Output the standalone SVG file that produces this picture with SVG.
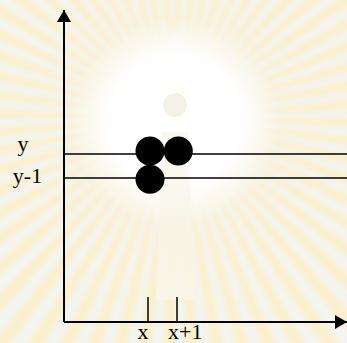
<svg xmlns="http://www.w3.org/2000/svg" width="347" height="343" viewBox="0 0 347 343">
  <defs>
    <radialGradient id="glow" cx="0.5" cy="0.5" r="0.5">
      <stop offset="0" stop-color="#ffffff" stop-opacity="1"/>
      <stop offset="0.62" stop-color="#ffffff" stop-opacity="1"/>
      <stop offset="1" stop-color="#ffffff" stop-opacity="0"/>
    </radialGradient>
    <linearGradient id="body" x1="0" y1="0" x2="0" y2="1">
      <stop offset="0" stop-color="#f6f3ea" stop-opacity="0.6"/>
      <stop offset="1" stop-color="#faf6e8" stop-opacity="0.9"/>
    </linearGradient>
    <filter id="soft" x="-10%" y="-10%" width="120%" height="120%">
      <feGaussianBlur stdDeviation="2"/>
    </filter>
    <marker id="ah" viewBox="0 0 12 14" refX="12" refY="7" markerWidth="12" markerHeight="14" markerUnits="userSpaceOnUse" orient="auto">
      <path d="M0,0 L12,7 L0,14 Z" fill="#000"/>
    </marker>
    <style>
      .ray { fill: none; stroke: #fbf0cd; stroke-width: 31; }
      .axis { stroke: #000; stroke-width: 2; fill: none; }
      .line { stroke: #000; stroke-width: 1.6; fill: none; }
      .tick { stroke: #000; stroke-width: 1.5; }
      .dot { fill: #000; }
      .lbl { font-family: "Liberation Serif", "Times New Roman", serif; font-size: 22px; fill: #000; }
    </style>
  </defs>

  <g id="watermark">
    <rect x="0" y="0" width="347" height="343" fill="#f4f4f0"/>
    <g transform="translate(175,118)" filter="url(#soft)">
      <circle class="ray" r="85" pathLength="120" stroke-dasharray="1 1"/>
      <circle class="ray" r="115" pathLength="120" stroke-dasharray="1 1"/>
      <circle class="ray" r="145" pathLength="120" stroke-dasharray="1 1"/>
      <circle class="ray" r="175" pathLength="120" stroke-dasharray="1 1"/>
      <circle class="ray" r="205" pathLength="120" stroke-dasharray="1 1"/>
      <circle class="ray" r="235" pathLength="120" stroke-dasharray="1 1"/>
      <circle class="ray" r="265" pathLength="120" stroke-dasharray="1 1"/>
      <circle class="ray" r="295" pathLength="120" stroke-dasharray="1 1"/>
    </g>
    <circle cx="175" cy="122" r="105" fill="url(#glow)"/>
    <path d="M162,132 L188,132 L194,300 L156,300 Z" fill="url(#body)"/>
    <circle cx="175" cy="105" r="12" fill="#f5f1e6"/>
  </g>

  <g id="connectors">
    <line class="axis" x1="64" y1="322" x2="64" y2="10" marker-end="url(#ah)"/>
    <line class="axis" x1="64" y1="322" x2="347" y2="322" marker-end="url(#ah)"/>
    <line class="line" x1="64" y1="154" x2="347" y2="154"/>
    <line class="line" x1="64" y1="178" x2="347" y2="178"/>
    <line class="tick" x1="148" y1="297" x2="148" y2="322"/>
    <line class="tick" x1="177" y1="297" x2="177" y2="322"/>
  </g>

  <g id="node-xy">
    <circle class="dot" cx="150" cy="151" r="14.5"/>
  </g>
  <g id="node-x1y">
    <circle class="dot" cx="178.3" cy="151" r="14.5"/>
  </g>
  <g id="node-xy1">
    <circle class="dot" cx="150" cy="179.3" r="14.5"/>
  </g>

  <g id="labels">
    <text class="lbl" x="23" y="151" text-anchor="middle">y</text>
    <text class="lbl" x="27.5" y="183" text-anchor="middle">y-1</text>
    <text class="lbl" x="143" y="339" text-anchor="middle">x</text>
    <text class="lbl" x="168" y="339">x+1</text>
  </g>
</svg>
